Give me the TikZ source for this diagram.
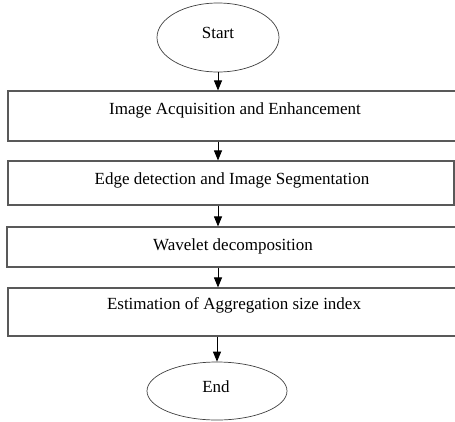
\documentclass[tikz,border=0pt]{standalone}
\usepackage{fontspec}
\setmainfont{Liberation Serif}
\usetikzlibrary{shapes.geometric,arrows.meta}
\begin{document}
\begin{tikzpicture}[x=1pt,y=-1pt,
  boxline/.style={draw=black!65,line width=1.1pt},
  stepbox/.style={boxline,rectangle,inner sep=0pt},
  term/.style={draw=black!75,line width=0.7pt,ellipse,inner sep=0pt},
  lbl/.style={font=\fontsize{17}{19}\selectfont,inner sep=0pt},
  flow/.style={draw=black,line width=0.9pt,-{Triangle[width=8pt,length=10pt]}}]
\useasboundingbox (0,0) rectangle (455,421);
\node[term,minimum width=122pt,minimum height=69pt] (s) at (218,37.5) {};
\node[lbl] (st) at (218,33) {Start};
\node[stepbox,minimum width=452pt,minimum height=50pt] (b1) at (234,116) {};
\node[lbl] (t1) at (235,110) {Image Acquisition and Enhancement};
\node[stepbox,minimum width=446pt,minimum height=44pt] (b2) at (231,183) {};
\node[lbl] (t2) at (232,180) {Edge detection and Image Segmentation};
\node[stepbox,minimum width=452pt,minimum height=40pt] (b3) at (233,247) {};
\node[lbl] (t3) at (233,246) {Wavelet decomposition};
\node[stepbox,minimum width=452pt,minimum height=48pt] (b4) at (234,312) {};
\node[lbl] (t4) at (234,305) {Estimation of Aggregation size index};
\node[term,minimum width=140pt,minimum height=58pt] (e) at (217,391) {};
\node[lbl] (et) at (216,387) {End};
\draw[flow] (s.south) -- (s.south |- b1.north);
\draw[flow] (b1.south -| s) -- (b2.north -| s);
\draw[flow] (b2.south -| s) -- (b3.north -| s);
\draw[flow] (b3.south -| s) -- (b4.north -| s);
\draw[flow] (b4.south -| e) -- (e.north);
\end{tikzpicture}
\end{document}
